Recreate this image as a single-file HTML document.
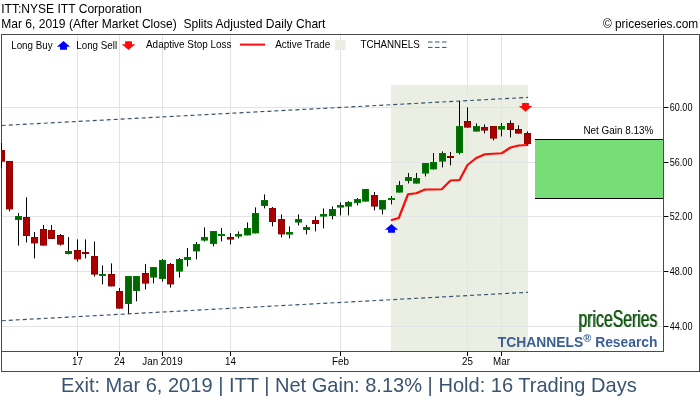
<!DOCTYPE html>
<html><head><meta charset="utf-8"><title>ITT chart</title>
<style>
html,body{margin:0;padding:0;background:#fff;}
body{width:700px;height:400px;overflow:hidden;font-family:"Liberation Sans",Arial,sans-serif;}
svg{display:block}
text{font-family:"Liberation Sans",Arial,sans-serif;fill:#000}
.t12{font-size:12px}
.lg{font-size:9.8px}
.ax{font-size:9.8px}
.ay{font-size:9px}
</style></head><body>
<svg width="700" height="400" viewBox="0 0 700 400">
<rect x="0" y="0" width="700" height="400" fill="#fff"/>

<rect x="391" y="85" width="137" height="266.5" fill="#eaeee3"/>
<rect x="2" y="107" width="660" height="1" fill="#e3e3e5"/>
<rect x="2" y="162" width="660" height="1" fill="#e3e3e5"/>
<rect x="2" y="216" width="660" height="1" fill="#e3e3e5"/>
<rect x="2" y="271" width="660" height="1" fill="#e3e3e5"/>
<rect x="2" y="326" width="660" height="1" fill="#e3e3e5"/>
<rect x="77.0" y="35" width="1" height="316.5" fill="#e3e3e5"/>
<rect x="119.0" y="35" width="1" height="316.5" fill="#e3e3e5"/>
<rect x="162.0" y="35" width="1" height="316.5" fill="#e3e3e5"/>
<rect x="230.0" y="35" width="1" height="316.5" fill="#e3e3e5"/>
<rect x="340.0" y="35" width="1" height="316.5" fill="#e3e3e5"/>
<rect x="467.0" y="35" width="1" height="316.5" fill="#e3e3e5"/>
<rect x="501.0" y="35" width="1" height="316.5" fill="#e3e3e5"/>
<line x1="1.8" y1="125.5" x2="528" y2="97.4" stroke="#36516f" stroke-width="1.15" stroke-dasharray="4,3"/>
<line x1="1.8" y1="320.7" x2="528" y2="292.3" stroke="#36516f" stroke-width="1.15" stroke-dasharray="4,3"/>
<rect x="535" y="139.5" width="128.5" height="59" fill="#77dd77"/>
<rect x="535" y="139" width="128.5" height="1" fill="#000"/>
<rect x="535" y="198" width="128.5" height="1" fill="#000"/>
<text transform="translate(653.3,134) scale(0.925,1)" text-anchor="end" style="font-size:10.7px;" xml:space="preserve">Net Gain 8.13%</text>
<polyline points="391.75,220 398.75,218 408,194.25 416.25,193.25 425,189.5 433,189.5 441.75,189.25 450.5,180.5 459.5,180 467.5,165 476.25,158 485,154.25 493,153.75 501.75,153.25 510.5,147.5 518.75,145.5 527.5,145" fill="none" stroke="#ff0a0a" stroke-width="2.2" stroke-linejoin="round" stroke-linecap="round"/>
<rect x="9.0" y="161" width="1" height="50.4" fill="#000"/>
<rect x="6.0" y="161" width="7" height="48.4" fill="#8c0000"/>
<rect x="6.9" y="161.9" width="5.2" height="46.6" fill="#ac0000"/>
<rect x="18.0" y="213" width="1" height="32.6" fill="#000"/>
<rect x="15.0" y="216" width="7" height="4" fill="#007c00"/>
<rect x="15.9" y="216.9" width="5.2" height="2.2" fill="#006600"/>
<rect x="26.0" y="197.4" width="1" height="45.0" fill="#000"/>
<rect x="23.0" y="217" width="7" height="19" fill="#8c0000"/>
<rect x="23.9" y="217.9" width="5.2" height="17.2" fill="#ac0000"/>
<rect x="34.0" y="232" width="1" height="26.4" fill="#000"/>
<rect x="31.0" y="237" width="7" height="6.4" fill="#8c0000"/>
<rect x="31.9" y="237.9" width="5.2" height="4.6" fill="#ac0000"/>
<rect x="43.0" y="225" width="1" height="20.6" fill="#000"/>
<rect x="40.0" y="229" width="7" height="16.6" fill="#8c0000"/>
<rect x="40.9" y="229.9" width="5.2" height="14.8" fill="#ac0000"/>
<rect x="51.0" y="225" width="1" height="14" fill="#000"/>
<rect x="48.0" y="230" width="7" height="9" fill="#8c0000"/>
<rect x="48.9" y="230.9" width="5.2" height="7.2" fill="#ac0000"/>
<rect x="60.0" y="234" width="1" height="11.6" fill="#000"/>
<rect x="57.0" y="235" width="7" height="9.6" fill="#8c0000"/>
<rect x="57.9" y="235.9" width="5.2" height="7.8" fill="#ac0000"/>
<rect x="68.0" y="237" width="1" height="17.4" fill="#000"/>
<rect x="65.0" y="251" width="7" height="3" fill="#007c00"/>
<rect x="65.9" y="251.9" width="5.2" height="1.2" fill="#006600"/>
<rect x="77.0" y="239.4" width="1" height="22.2" fill="#000"/>
<rect x="74.0" y="250" width="7" height="9.4" fill="#8c0000"/>
<rect x="74.9" y="250.9" width="5.2" height="7.6" fill="#ac0000"/>
<rect x="85.0" y="239.4" width="1" height="19.0" fill="#000"/>
<rect x="82.0" y="252" width="7" height="2" fill="#8c0000"/>
<rect x="94.0" y="241.4" width="1" height="35.2" fill="#000"/>
<rect x="91.0" y="256" width="7" height="18.6" fill="#8c0000"/>
<rect x="91.9" y="256.9" width="5.2" height="16.8" fill="#ac0000"/>
<rect x="102.0" y="265.4" width="1" height="19.0" fill="#000"/>
<rect x="99.0" y="274" width="7" height="2" fill="#007c00"/>
<rect x="111.0" y="263.4" width="1" height="23.0" fill="#000"/>
<rect x="108.0" y="274" width="7" height="12.4" fill="#8c0000"/>
<rect x="108.9" y="274.9" width="5.2" height="10.6" fill="#ac0000"/>
<rect x="119.0" y="288" width="1" height="20.6" fill="#000"/>
<rect x="116.0" y="291" width="7" height="17.6" fill="#8c0000"/>
<rect x="116.9" y="291.9" width="5.2" height="15.8" fill="#ac0000"/>
<rect x="128.0" y="276" width="1" height="37.6" fill="#000"/>
<rect x="125.0" y="276" width="7" height="28" fill="#007c00"/>
<rect x="125.9" y="276.9" width="5.2" height="26.2" fill="#006600"/>
<rect x="136.0" y="276" width="1" height="25.4" fill="#000"/>
<rect x="133.0" y="276" width="7" height="15" fill="#007c00"/>
<rect x="133.9" y="276.9" width="5.2" height="13.2" fill="#006600"/>
<rect x="145.0" y="264" width="1" height="25.4" fill="#000"/>
<rect x="142.0" y="273" width="7" height="10.6" fill="#8c0000"/>
<rect x="142.9" y="273.9" width="5.2" height="8.8" fill="#ac0000"/>
<rect x="153.0" y="267" width="1" height="16.4" fill="#000"/>
<rect x="150.0" y="267" width="7" height="10.6" fill="#007c00"/>
<rect x="150.9" y="267.9" width="5.2" height="8.8" fill="#006600"/>
<rect x="162.0" y="259" width="1" height="22.6" fill="#000"/>
<rect x="159.0" y="260" width="7" height="19" fill="#007c00"/>
<rect x="159.9" y="260.9" width="5.2" height="17.2" fill="#006600"/>
<rect x="170.0" y="263" width="1" height="24.6" fill="#000"/>
<rect x="167.0" y="264" width="7" height="20.4" fill="#8c0000"/>
<rect x="167.9" y="264.9" width="5.2" height="18.6" fill="#ac0000"/>
<rect x="179.0" y="258" width="1" height="19.6" fill="#000"/>
<rect x="176.0" y="259" width="7" height="12.6" fill="#007c00"/>
<rect x="176.9" y="259.9" width="5.2" height="10.8" fill="#006600"/>
<rect x="187.0" y="248" width="1" height="18.4" fill="#000"/>
<rect x="184.0" y="257" width="7" height="3" fill="#007c00"/>
<rect x="184.9" y="257.9" width="5.2" height="1.2" fill="#006600"/>
<rect x="196.0" y="242" width="1" height="17.4" fill="#000"/>
<rect x="193.0" y="244" width="7" height="7.4" fill="#007c00"/>
<rect x="193.9" y="244.9" width="5.2" height="5.6" fill="#006600"/>
<rect x="204.0" y="227.4" width="1" height="14.2" fill="#000"/>
<rect x="201.0" y="237" width="7" height="3.6" fill="#007c00"/>
<rect x="201.9" y="237.9" width="5.2" height="1.8" fill="#006600"/>
<rect x="213.0" y="231" width="1" height="15.4" fill="#000"/>
<rect x="210.0" y="231" width="7" height="13" fill="#007c00"/>
<rect x="210.9" y="231.9" width="5.2" height="11.2" fill="#006600"/>
<rect x="221.0" y="228" width="1" height="13.4" fill="#000"/>
<rect x="218.0" y="234" width="7" height="2" fill="#007c00"/>
<rect x="230.0" y="233" width="1" height="11.4" fill="#000"/>
<rect x="227.0" y="237" width="7" height="2.6" fill="#8c0000"/>
<rect x="227.9" y="237.9" width="5.2" height="0.8" fill="#ac0000"/>
<rect x="238.0" y="231.4" width="1" height="7.0" fill="#000"/>
<rect x="235.0" y="234" width="7" height="2.6" fill="#007c00"/>
<rect x="235.9" y="234.9" width="5.2" height="0.8" fill="#006600"/>
<rect x="247.0" y="222.4" width="1" height="13.0" fill="#000"/>
<rect x="244.0" y="228" width="7" height="7.4" fill="#007c00"/>
<rect x="244.9" y="228.9" width="5.2" height="5.6" fill="#006600"/>
<rect x="255.0" y="207.4" width="1" height="26.0" fill="#000"/>
<rect x="252.0" y="213" width="7" height="20.4" fill="#007c00"/>
<rect x="252.9" y="213.9" width="5.2" height="18.6" fill="#006600"/>
<rect x="264.0" y="194.4" width="1" height="14.0" fill="#000"/>
<rect x="261.0" y="200" width="7" height="6" fill="#007c00"/>
<rect x="261.9" y="200.9" width="5.2" height="4.2" fill="#006600"/>
<rect x="272.0" y="207" width="1" height="19.4" fill="#000"/>
<rect x="269.0" y="208" width="7" height="14" fill="#8c0000"/>
<rect x="269.9" y="208.9" width="5.2" height="12.2" fill="#ac0000"/>
<rect x="281.0" y="214.4" width="1" height="23.0" fill="#000"/>
<rect x="278.0" y="219" width="7" height="15.4" fill="#8c0000"/>
<rect x="278.9" y="219.9" width="5.2" height="13.6" fill="#ac0000"/>
<rect x="289.0" y="226.4" width="1" height="12.0" fill="#000"/>
<rect x="286.0" y="232" width="7" height="2.6" fill="#007c00"/>
<rect x="286.9" y="232.9" width="5.2" height="0.8" fill="#006600"/>
<rect x="298.0" y="214.4" width="1" height="11.0" fill="#000"/>
<rect x="295.0" y="219" width="7" height="3.6" fill="#007c00"/>
<rect x="295.9" y="219.9" width="5.2" height="1.8" fill="#006600"/>
<rect x="306.0" y="225" width="1" height="9.4" fill="#000"/>
<rect x="303.0" y="227" width="7" height="3" fill="#007c00"/>
<rect x="303.9" y="227.9" width="5.2" height="1.2" fill="#006600"/>
<rect x="315.0" y="216.4" width="1" height="15.0" fill="#000"/>
<rect x="312.0" y="220" width="7" height="4" fill="#8c0000"/>
<rect x="312.9" y="220.9" width="5.2" height="2.2" fill="#ac0000"/>
<rect x="323.0" y="208.4" width="1" height="20.0" fill="#000"/>
<rect x="320.0" y="214" width="7" height="2.6" fill="#007c00"/>
<rect x="320.9" y="214.9" width="5.2" height="0.8" fill="#006600"/>
<rect x="332.0" y="206.4" width="1" height="13.0" fill="#000"/>
<rect x="329.0" y="209" width="7" height="7" fill="#007c00"/>
<rect x="329.9" y="209.9" width="5.2" height="5.2" fill="#006600"/>
<rect x="340.0" y="202.4" width="1" height="13.0" fill="#000"/>
<rect x="337.0" y="205" width="7" height="2.6" fill="#007c00"/>
<rect x="337.9" y="205.9" width="5.2" height="0.8" fill="#006600"/>
<rect x="348.0" y="201" width="1" height="14.4" fill="#000"/>
<rect x="345.0" y="202" width="7" height="4.6" fill="#007c00"/>
<rect x="345.9" y="202.9" width="5.2" height="2.8" fill="#006600"/>
<rect x="357.0" y="198" width="1" height="7.4" fill="#000"/>
<rect x="354.0" y="199" width="7" height="4" fill="#007c00"/>
<rect x="354.9" y="199.9" width="5.2" height="2.2" fill="#006600"/>
<rect x="365.0" y="189" width="1" height="12.6" fill="#000"/>
<rect x="362.0" y="189" width="7" height="12.6" fill="#007c00"/>
<rect x="362.9" y="189.9" width="5.2" height="10.8" fill="#006600"/>
<rect x="374.0" y="192" width="1" height="18.4" fill="#000"/>
<rect x="371.0" y="195" width="7" height="11.6" fill="#8c0000"/>
<rect x="371.9" y="195.9" width="5.2" height="9.8" fill="#ac0000"/>
<rect x="382.0" y="200" width="1" height="14.4" fill="#000"/>
<rect x="379.0" y="200" width="7" height="9.6" fill="#007c00"/>
<rect x="379.9" y="200.9" width="5.2" height="7.8" fill="#006600"/>
<rect x="391.0" y="196" width="1" height="8.4" fill="#000"/>
<rect x="388.0" y="198" width="7" height="2" fill="#007c00"/>
<rect x="399.0" y="181" width="1" height="11.6" fill="#000"/>
<rect x="396.0" y="185" width="7" height="7.6" fill="#007c00"/>
<rect x="396.9" y="185.9" width="5.2" height="5.8" fill="#006600"/>
<rect x="408.0" y="173" width="1" height="10.4" fill="#000"/>
<rect x="405.0" y="177" width="7" height="4" fill="#007c00"/>
<rect x="405.9" y="177.9" width="5.2" height="2.2" fill="#006600"/>
<rect x="416.0" y="173" width="1" height="10.6" fill="#000"/>
<rect x="413.0" y="178" width="7" height="5.6" fill="#007c00"/>
<rect x="413.9" y="178.9" width="5.2" height="3.8" fill="#006600"/>
<rect x="425.0" y="163" width="1" height="13.4" fill="#000"/>
<rect x="422.0" y="163" width="7" height="10.6" fill="#007c00"/>
<rect x="422.9" y="163.9" width="5.2" height="8.8" fill="#006600"/>
<rect x="433.0" y="153" width="1" height="16.4" fill="#000"/>
<rect x="430.0" y="162" width="7" height="7.4" fill="#007c00"/>
<rect x="430.9" y="162.9" width="5.2" height="5.6" fill="#006600"/>
<rect x="442.0" y="151.4" width="1" height="16.0" fill="#000"/>
<rect x="439.0" y="153" width="7" height="8.6" fill="#007c00"/>
<rect x="439.9" y="153.9" width="5.2" height="6.8" fill="#006600"/>
<rect x="450.0" y="152" width="1" height="13.4" fill="#000"/>
<rect x="447.0" y="156" width="7" height="2" fill="#8c0000"/>
<rect x="459.0" y="101" width="1" height="53.4" fill="#000"/>
<rect x="456.0" y="126" width="7" height="27" fill="#007c00"/>
<rect x="456.9" y="126.9" width="5.2" height="25.2" fill="#006600"/>
<rect x="467.0" y="107.4" width="1" height="20.2" fill="#000"/>
<rect x="464.0" y="121" width="7" height="6.6" fill="#8c0000"/>
<rect x="464.9" y="121.9" width="5.2" height="4.8" fill="#ac0000"/>
<rect x="476.0" y="123.4" width="1" height="8.2" fill="#000"/>
<rect x="473.0" y="126" width="7" height="5.6" fill="#007c00"/>
<rect x="473.9" y="126.9" width="5.2" height="3.8" fill="#006600"/>
<rect x="484.0" y="124.4" width="1" height="9.0" fill="#000"/>
<rect x="481.0" y="127" width="7" height="3.6" fill="#8c0000"/>
<rect x="481.9" y="127.9" width="5.2" height="1.8" fill="#ac0000"/>
<rect x="493.0" y="126" width="1" height="14.4" fill="#000"/>
<rect x="490.0" y="126" width="7" height="12.6" fill="#8c0000"/>
<rect x="490.9" y="126.9" width="5.2" height="10.8" fill="#ac0000"/>
<rect x="501.0" y="123" width="1" height="13.4" fill="#000"/>
<rect x="498.0" y="126" width="7" height="3.6" fill="#007c00"/>
<rect x="498.9" y="126.9" width="5.2" height="1.8" fill="#006600"/>
<rect x="510.0" y="120.4" width="1" height="17.0" fill="#000"/>
<rect x="507.0" y="123" width="7" height="7" fill="#8c0000"/>
<rect x="507.9" y="123.9" width="5.2" height="5.2" fill="#ac0000"/>
<rect x="518.0" y="125.4" width="1" height="8.2" fill="#000"/>
<rect x="515.0" y="129" width="7" height="4.6" fill="#8c0000"/>
<rect x="515.9" y="129.9" width="5.2" height="2.8" fill="#ac0000"/>
<rect x="527.0" y="131.4" width="1" height="13.6" fill="#000"/>
<rect x="524.0" y="133" width="7" height="11" fill="#8c0000"/>
<rect x="524.9" y="133.9" width="5.2" height="9.2" fill="#ac0000"/>
<path d="M391.5,224 L398.1,229.8 L394.95,229.8 L394.95,232.8 L388.05,232.8 L388.05,229.8 L384.9,229.8 Z" fill="#0000ff"/>
<path d="M522.1,103 L528.9,103 L528.9,106 L532.2,106 L525.5,111.8 L518.8,106 L522.1,106 Z" fill="#ff0a0a"/>
<rect x="1.5" y="34.5" width="698" height="337" fill="none" stroke="#4a4a4a" stroke-width="1"/>
<rect x="663" y="35" width="1" height="317" fill="#4a4a4a"/>
<rect x="2" y="351" width="662" height="1" fill="#4a4a4a"/>
<rect x="1" y="143" width="1" height="25" fill="#000"/>
<rect x="1" y="150" width="4" height="11.7" fill="#8c0000"/>
<rect x="1" y="150.9" width="3.1" height="9.9" fill="#ac0000"/>
<rect x="664" y="107" width="4.5" height="1" fill="#000"/>
<text transform="translate(669.8,111.1) scale(0.87,1)" style="font-size:10.4px;" xml:space="preserve">60.00</text>
<rect x="664" y="162" width="4.5" height="1" fill="#000"/>
<text transform="translate(669.8,166.1) scale(0.87,1)" style="font-size:10.4px;" xml:space="preserve">56.00</text>
<rect x="664" y="216" width="4.5" height="1" fill="#000"/>
<text transform="translate(669.8,220.1) scale(0.87,1)" style="font-size:10.4px;" xml:space="preserve">52.00</text>
<rect x="664" y="271" width="4.5" height="1" fill="#000"/>
<text transform="translate(669.8,275.1) scale(0.87,1)" style="font-size:10.4px;" xml:space="preserve">48.00</text>
<rect x="664" y="326" width="4.5" height="1" fill="#000"/>
<text transform="translate(669.8,330.1) scale(0.87,1)" style="font-size:10.4px;" xml:space="preserve">44.00</text>
<rect x="77.0" y="352" width="1" height="4" fill="#000"/>
<text transform="translate(77.5,365) scale(0.89,1)" text-anchor="middle" style="font-size:11px;" xml:space="preserve">17</text>
<rect x="119.0" y="352" width="1" height="4" fill="#000"/>
<text transform="translate(119.5,365) scale(0.89,1)" text-anchor="middle" style="font-size:11px;" xml:space="preserve">24</text>
<rect x="162.0" y="352" width="1" height="4" fill="#000"/>
<text transform="translate(162.5,365) scale(0.89,1)" text-anchor="middle" style="font-size:11px;" xml:space="preserve">Jan 2019</text>
<rect x="230.0" y="352" width="1" height="4" fill="#000"/>
<text transform="translate(230.5,365) scale(0.89,1)" text-anchor="middle" style="font-size:11px;" xml:space="preserve">14</text>
<rect x="340.0" y="352" width="1" height="4" fill="#000"/>
<text transform="translate(340.5,365) scale(0.89,1)" text-anchor="middle" style="font-size:11px;" xml:space="preserve">Feb</text>
<rect x="467.0" y="352" width="1" height="4" fill="#000"/>
<text transform="translate(467.5,365) scale(0.89,1)" text-anchor="middle" style="font-size:11px;" xml:space="preserve">25</text>
<rect x="501.0" y="352" width="1" height="4" fill="#000"/>
<text transform="translate(501.5,365) scale(0.89,1)" text-anchor="middle" style="font-size:11px;" xml:space="preserve">Mar</text>
<text transform="translate(11.2,48.8) scale(0.89,1)" style="font-size:11px;" xml:space="preserve">Long Buy</text>
<path d="M63.5,41 L70.1,46.8 L66.95,46.8 L66.95,49.8 L60.05,49.8 L60.05,46.8 L56.9,46.8 Z" fill="#0000ff"/>
<text transform="translate(76.3,48.8) scale(0.89,1)" style="font-size:11px;" xml:space="preserve">Long Sell</text>
<path d="M125.1,41.2 L131.9,41.2 L131.9,44.2 L135.2,44.2 L128.5,50.0 L121.8,44.2 L125.1,44.2 Z" fill="#ff0a0a"/>
<text transform="translate(146,47.8) scale(0.902,1)" style="font-size:11px;" xml:space="preserve">Adaptive Stop Loss</text>
<rect x="240" y="43.6" width="25" height="2" fill="#ff0a0a"/>
<text transform="translate(275.2,47.8) scale(0.9,1)" style="font-size:11px;" xml:space="preserve">Active Trade</text>
<rect x="335" y="40" width="10.5" height="10" fill="#eaeee3"/>
<text transform="translate(360.4,47.8) scale(0.89,1)" style="font-size:11px;" xml:space="preserve">TCHANNELS</text>
<rect x="428" y="41.5" width="4.5" height="1" fill="#35507a"/>
<rect x="435" y="41.5" width="4.5" height="1" fill="#35507a"/>
<rect x="442" y="41.5" width="4.5" height="1" fill="#35507a"/>
<rect x="428" y="46.9" width="4.5" height="1" fill="#35507a"/>
<rect x="435" y="46.9" width="4.5" height="1" fill="#35507a"/>
<rect x="442" y="46.9" width="4.5" height="1" fill="#35507a"/>
<text transform="translate(1.2,13) scale(0.957,1)" style="font-size:12.6px;" xml:space="preserve">ITT:NYSE ITT Corporation</text>
<text transform="translate(1.2,28) scale(0.957,1)" style="font-size:12.6px;" xml:space="preserve">Mar 6, 2019 (After Market Close)  Splits Adjusted Daily Chart</text>
<text transform="translate(698.3,27.6) scale(0.945,1)" text-anchor="end" style="font-size:12.6px;" xml:space="preserve">© priceseries.com</text>
<defs><filter id="thick" x="-5%" y="-5%" width="110%" height="110%"><feOffset in="SourceGraphic" dx="1" dy="0" result="o"/><feComponentTransfer in="o" result="o2"><feFuncA type="linear" slope="0.6"/></feComponentTransfer><feMerge><feMergeNode in="o2"/><feMergeNode in="SourceGraphic"/></feMerge></filter></defs>
<text x="657.2" y="327.4" text-anchor="end" textLength="79" lengthAdjust="spacingAndGlyphs" filter="url(#thick)" style="font-size:23.6px;fill:#095209">priceSeries</text>
<text x="657.5" y="346.9" text-anchor="end" style="font-size:13.85px;font-weight:bold;fill:#3a5f95">TCHANNELS<tspan dy="-4.6" style="font-size:11px">®</tspan><tspan dy="4.6"> Research</tspan></text>
<text x="348.9" y="391.8" text-anchor="middle" style="font-size:20.06px;fill:#3a5470">Exit: Mar 6, 2019 | ITT | Net Gain: 8.13% | Hold: 16 Trading Days</text>
</svg></body></html>
